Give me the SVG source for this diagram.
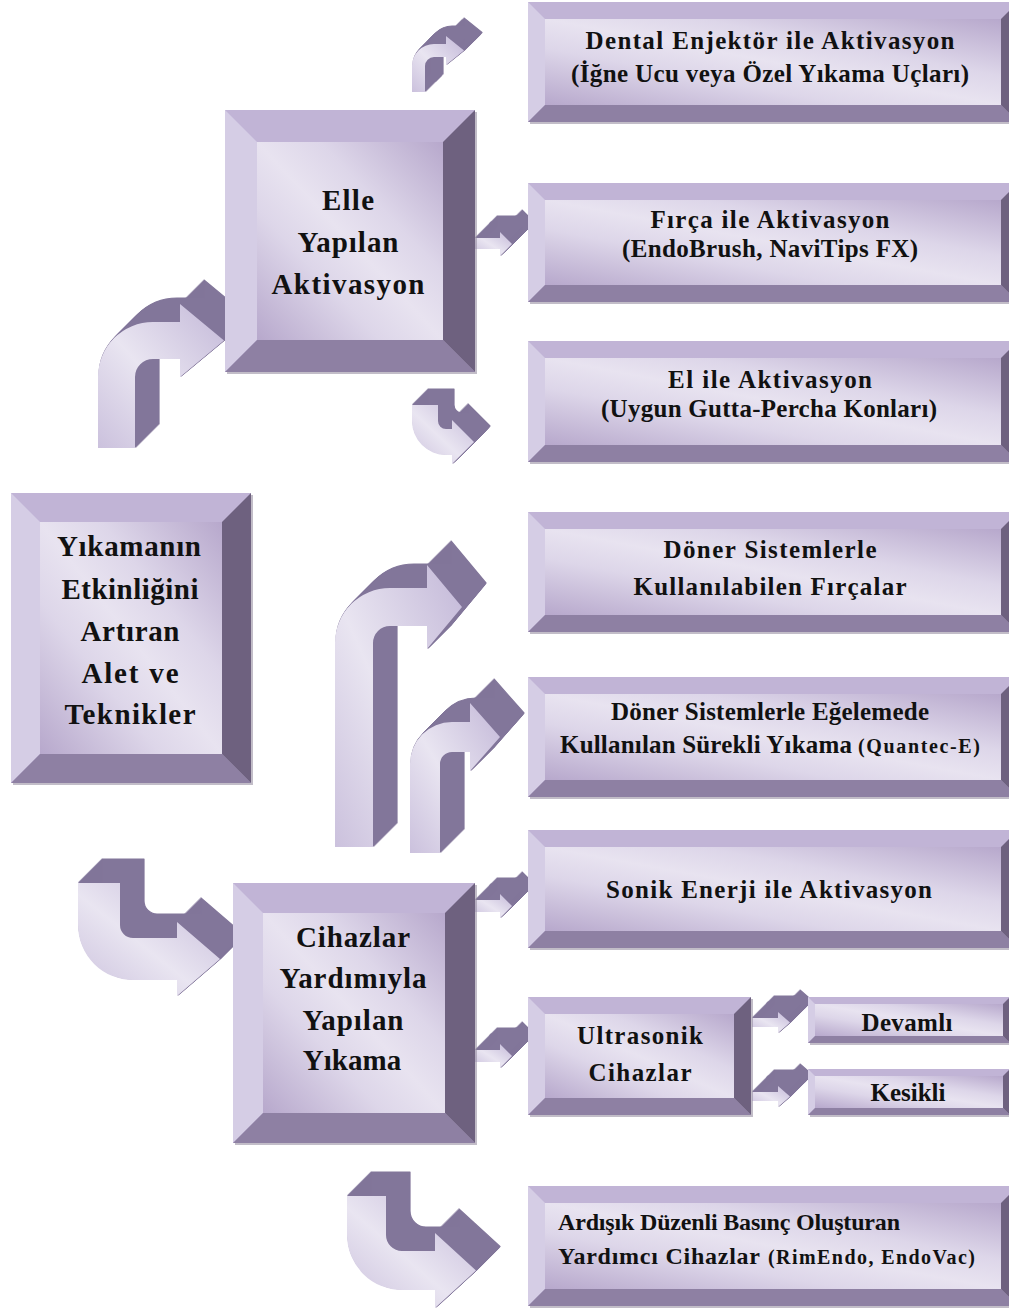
<svg xmlns="http://www.w3.org/2000/svg" xmlns:xlink="http://www.w3.org/1999/xlink" width="1009" height="1311" viewBox="0 0 1009 1311">
<style>
.t{fill:#c1b4d6}.l{fill:#d5cde5}.b{fill:#8e80a3}.r{fill:#6e617f}.f{fill:url(#fg)}.s{fill:#8f879b;opacity:.55}
.ex{fill:#82769a;stroke:#82769a;stroke-width:1.2;stroke-linejoin:round}
.af{fill:url(#ag)}
text{font-family:"Liberation Serif","Times New Roman",serif;font-weight:bold;fill:#111;text-anchor:middle}
.w{font-size:25px}.big{font-size:29px}.sm{font-size:20px}.st{text-anchor:start}.w24{font-size:24px}
</style>
<defs>
<linearGradient id="fg" x1="1" y1="0" x2="0" y2="1">
<stop offset="0" stop-color="#b7a8cc"/><stop offset="0.33" stop-color="#ddd6e9"/><stop offset="0.5" stop-color="#e8e3f0"/><stop offset="0.67" stop-color="#ddd6e9"/><stop offset="1" stop-color="#b7a8cc"/>
</linearGradient>
<linearGradient id="ag" x1="0" y1="1" x2="1" y2="0">
<stop offset="0" stop-color="#cbc1dd"/><stop offset="0.45" stop-color="#e9e5f1"/><stop offset="1" stop-color="#c3b8d8"/>
</linearGradient>
<path id="p1" d="M412,92 L412,66 A22,22 0 0 1 434,44 L446,44 L446,36 L464,50.5 L446,65 L446,57 L434,57 A9,9 0 0 0 425,66 L425,92 Z"/>
<path id="p2" d="M98,448 L98,377 A55,55 0 0 1 153,322 L180,322 L180,304 L224,340.5 L180,377 L180,359 L153,359 A18,18 0 0 0 135,377 L135,448 Z"/>
<path id="p3" d="M412,405 L412,421 A34,34 0 0 0 446,455 L452,455 L452,464 L474,442 L452,420 L452,429 L446,429 A8,8 0 0 1 438,421 L438,405 Z"/>
<path id="p4" d="M78,883 L78,925 A55,55 0 0 0 133,980 L177,980 L177,996 L220,959 L177,922 L177,938 L133,938 A13,13 0 0 1 120,925 L120,883 Z"/>
<path id="p5" d="M347,1196 L347,1235 A55,55 0 0 0 402,1290 L435,1290 L435,1308 L476,1270.5 L435,1233 L435,1251 L402,1251 A16,16 0 0 1 386,1235 L386,1196 Z"/>
<path id="p6" d="M335,847 L335,643 A55,55 0 0 1 390,588 L427,588 L427,565 L462,607 L427,649 L427,626 L390,626 A17,17 0 0 0 373,643 L373,847 Z"/>
<path id="p7" d="M410,853 L410,764 A42,42 0 0 1 452,722 L470,722 L470,703 L500,737 L470,771 L470,752 L452,752 A12,12 0 0 0 440,764 L440,853 Z"/>
<path id="p8" d="M475,238 L500,238 L500,232 L512,244 L500,256 L500,249 L475,249 Z"/>
<path id="p9" d="M475,900 L500,900 L500,894 L512,906 L500,918 L500,912 L475,912 Z"/>
<path id="p10" d="M475,1050 L500,1050 L500,1044 L512,1056 L500,1068 L500,1062 L475,1062 Z"/>
<path id="p11" d="M752,1018 L778,1018 L778,1012 L790,1022.5 L778,1033 L778,1027 L752,1027 Z"/>
<path id="p12" d="M752,1092 L778,1092 L778,1086 L790,1096.5 L778,1107 L778,1101 L752,1101 Z"/>
<g id="a24"><use xlink:href="#p2"/><use xlink:href="#p4"/><use xlink:href="#p5"/><use xlink:href="#p6"/><use xlink:href="#p7"/></g>
<g id="b24"><use xlink:href="#a24"/><use xlink:href="#a24" x="1" y="-1"/></g>
<g id="c24"><use xlink:href="#b24"/><use xlink:href="#b24" x="2" y="-2"/></g>
<g id="d24"><use xlink:href="#c24"/><use xlink:href="#c24" x="4" y="-4"/></g>
<g id="a22"><use xlink:href="#p8"/><use xlink:href="#p9"/><use xlink:href="#p10"/><use xlink:href="#p11"/><use xlink:href="#p12"/></g>
<g id="b22"><use xlink:href="#a22"/><use xlink:href="#a22" x="1" y="-1"/></g>
<g id="c22"><use xlink:href="#b22"/><use xlink:href="#b22" x="2" y="-2"/></g>
<g id="d22"><use xlink:href="#c22"/><use xlink:href="#c22" x="4" y="-4"/></g>
<g id="b1"><use xlink:href="#p1"/><use xlink:href="#p1" x="1" y="-1"/></g>
<g id="c1"><use xlink:href="#b1"/><use xlink:href="#b1" x="2" y="-2"/></g>
<g id="d1"><use xlink:href="#c1"/><use xlink:href="#c1" x="4" y="-4"/></g>
<g id="b3"><use xlink:href="#p3"/><use xlink:href="#p3" x="1" y="-1"/></g>
<g id="c3"><use xlink:href="#b3"/><use xlink:href="#b3" x="2" y="-2"/></g>
<g id="d3"><use xlink:href="#c3"/><use xlink:href="#c3" x="4" y="-4"/></g>
</defs>
<rect width="1009" height="1311" fill="#ffffff"/>
<g id="connectors">
<g class="ex">
<use xlink:href="#d24" x="1" y="-1"/><use xlink:href="#d24" x="9" y="-9"/><use xlink:href="#d24" x="17" y="-17"/>
<use xlink:href="#d22" x="1" y="-1"/><use xlink:href="#d22" x="9" y="-9"/><use xlink:href="#d22" x="15" y="-15"/>
<use xlink:href="#d1" x="1" y="-1"/><use xlink:href="#d1" x="9" y="-9"/><use xlink:href="#d1" x="11" y="-11"/>
<use xlink:href="#d3" x="1" y="-1"/><use xlink:href="#d3" x="9" y="-9"/>
</g>
<g class="af">
<use xlink:href="#p1"/><use xlink:href="#p2"/><use xlink:href="#p3"/><use xlink:href="#p4"/><use xlink:href="#p5"/><use xlink:href="#p6"/>
<use xlink:href="#p7"/><use xlink:href="#p8"/><use xlink:href="#p9"/><use xlink:href="#p10"/><use xlink:href="#p11"/><use xlink:href="#p12"/>
</g>
</g>

<g id="n-elle">
<rect class="s" x="227" y="112" width="250" height="262"/>
<rect class="t" x="225" y="110" width="250" height="262"/>
<polygon class="l" points="225,110 257,142 257,340 225,372"/>
<polygon class="b" points="225,372 257,340 443,340 475,372"/>
<polygon class="r" points="475,110 475,372 443,340 443,142"/>
<rect class="f" x="257" y="142" width="186" height="198"/>
<text class="big" x="348" y="210" textLength="52">Elle</text>
<text class="big" x="348" y="252" textLength="101">Yapılan</text>
<text class="big" x="348" y="294" textLength="153">Aktivasyon</text>
</g>

<g id="n-root">
<rect class="s" x="13" y="495" width="240" height="290"/>
<rect class="t" x="11" y="493" width="240" height="290"/>
<polygon class="l" points="11,493 40,522 40,754 11,783"/>
<polygon class="b" points="11,783 40,754 222,754 251,783"/>
<polygon class="r" points="251,493 251,783 222,754 222,522"/>
<rect class="f" x="40" y="522" width="182" height="232"/>
<text class="big" x="129" y="556" textLength="144">Yıkamanın</text>
<text class="big" x="130" y="599" textLength="137">Etkinliğini</text>
<text class="big" x="130" y="641" textLength="99">Artıran</text>
<text class="big" x="130" y="683" textLength="97">Alet ve</text>
<text class="big" x="130" y="724" textLength="131">Teknikler</text>
</g>

<g id="n-cihaz">
<rect class="s" x="235" y="885" width="242" height="260"/>
<rect class="t" x="233" y="883" width="242" height="260"/>
<polygon class="l" points="233,883 263,913 263,1113 233,1143"/>
<polygon class="b" points="233,1143 263,1113 445,1113 475,1143"/>
<polygon class="r" points="475,883 475,1143 445,1113 445,913"/>
<rect class="f" x="263" y="913" width="182" height="200"/>
<text class="big" x="353" y="947" textLength="114">Cihazlar</text>
<text class="big" x="353" y="988" textLength="147">Yardımıyla</text>
<text class="big" x="353" y="1030" textLength="101">Yapılan</text>
<text class="big" x="352" y="1070">Yıkama</text>
</g>

<g id="n-dental">
<rect class="s" x="530" y="4" width="490" height="120"/>
<rect class="t" x="528" y="2" width="490" height="120"/>
<polygon class="l" points="528,2 545,19 545,105 528,122"/>
<polygon class="b" points="528,122 545,105 1001,105 1018,122"/>
<polygon class="r" points="1018,2 1018,122 1001,105 1001,19"/>
<rect class="f" x="545" y="19" width="456" height="86"/>
<text class="w" x="770" y="49" textLength="369">Dental Enjektör ile Aktivasyon</text>
<text class="w" x="770" y="82" textLength="398">(İğne Ucu veya Özel Yıkama Uçları)</text>
</g>

<g id="n-firca">
<rect class="s" x="530" y="185" width="490" height="119"/>
<rect class="t" x="528" y="183" width="490" height="119"/>
<polygon class="l" points="528,183 545,200 545,285 528,302"/>
<polygon class="b" points="528,302 545,285 1001,285 1018,302"/>
<polygon class="r" points="1018,183 1018,302 1001,285 1001,200"/>
<rect class="f" x="545" y="200" width="456" height="85"/>
<text class="w" x="770" y="228" textLength="239">Fırça ile Aktivasyon</text>
<text class="w" x="770" y="257" textLength="296">(EndoBrush, NaviTips FX)</text>
</g>

<g id="n-el">
<rect class="s" x="530" y="343" width="490" height="121"/>
<rect class="t" x="528" y="341" width="490" height="121"/>
<polygon class="l" points="528,341 545,358 545,445 528,462"/>
<polygon class="b" points="528,462 545,445 1001,445 1018,462"/>
<polygon class="r" points="1018,341 1018,462 1001,445 1001,358"/>
<rect class="f" x="545" y="358" width="456" height="87"/>
<text class="w" x="770" y="388" textLength="204">El ile Aktivasyon</text>
<text class="w" x="769" y="417" textLength="336">(Uygun Gutta-Percha Konları)</text>
</g>

<g id="n-doner1">
<rect class="s" x="530" y="514" width="490" height="120"/>
<rect class="t" x="528" y="512" width="490" height="120"/>
<polygon class="l" points="528,512 545,529 545,615 528,632"/>
<polygon class="b" points="528,632 545,615 1001,615 1018,632"/>
<polygon class="r" points="1018,512 1018,632 1001,615 1001,529"/>
<rect class="f" x="545" y="529" width="456" height="86"/>
<text class="w" x="770" y="558" textLength="213">Döner Sistemlerle</text>
<text class="w" x="770" y="595" textLength="273">Kullanılabilen Fırçalar</text>
</g>

<g id="n-doner2">
<rect class="s" x="530" y="679" width="490" height="120"/>
<rect class="t" x="528" y="677" width="490" height="120"/>
<polygon class="l" points="528,677 545,694 545,780 528,797"/>
<polygon class="b" points="528,797 545,780 1001,780 1018,797"/>
<polygon class="r" points="1018,677 1018,797 1001,780 1001,694"/>
<rect class="f" x="545" y="694" width="456" height="86"/>
<text class="w" x="770" y="720" textLength="318">Döner Sistemlerle Eğelemede</text>
<text class="w st" x="560" y="753" textLength="292">Kullanılan Sürekli Yıkama</text>
<text class="sm st" x="858" y="753" textLength="122">(Quantec-E)</text>
</g>

<g id="n-sonik">
<rect class="s" x="530" y="832" width="490" height="118"/>
<rect class="t" x="528" y="830" width="490" height="118"/>
<polygon class="l" points="528,830 545,847 545,931 528,948"/>
<polygon class="b" points="528,948 545,931 1001,931 1018,948"/>
<polygon class="r" points="1018,830 1018,948 1001,931 1001,847"/>
<rect class="f" x="545" y="847" width="456" height="84"/>
<text class="w" x="769" y="898" textLength="326">Sonik Enerji ile Aktivasyon</text>
</g>

<g id="n-ultra">
<rect class="s" x="530" y="999" width="223" height="118"/>
<rect class="t" x="528" y="997" width="223" height="118"/>
<polygon class="l" points="528,997 545,1014 545,1098 528,1115"/>
<polygon class="b" points="528,1115 545,1098 734,1098 751,1115"/>
<polygon class="r" points="751,997 751,1115 734,1098 734,1014"/>
<rect class="f" x="545" y="1014" width="189" height="84"/>
<text class="w" x="640" y="1044" textLength="126">Ultrasonik</text>
<text class="w" x="640" y="1081" textLength="103">Cihazlar</text>
</g>

<g id="n-devamli">
<rect class="s" x="810" y="999" width="202" height="46"/>
<rect class="t" x="808" y="997" width="202" height="46"/>
<polygon class="l" points="808,997 815,1004 815,1036 808,1043"/>
<polygon class="b" points="808,1043 815,1036 1003,1036 1010,1043"/>
<polygon class="r" points="1010,997 1010,1043 1003,1036 1003,1004"/>
<rect class="f" x="815" y="1004" width="188" height="32"/>
<text class="w" x="907" y="1031" textLength="91">Devamlı</text>
</g>

<g id="n-kesikli">
<rect class="s" x="810" y="1071" width="202" height="46"/>
<rect class="t" x="808" y="1069" width="202" height="46"/>
<polygon class="l" points="808,1069 815,1076 815,1108 808,1115"/>
<polygon class="b" points="808,1115 815,1108 1003,1108 1010,1115"/>
<polygon class="r" points="1010,1069 1010,1115 1003,1108 1003,1076"/>
<rect class="f" x="815" y="1076" width="188" height="32"/>
<text class="w" x="908" y="1101">Kesikli</text>
</g>

<g id="n-ardisik">
<rect class="s" x="530" y="1188" width="490" height="120"/>
<rect class="t" x="528" y="1186" width="490" height="120"/>
<polygon class="l" points="528,1186 545,1203 545,1289 528,1306"/>
<polygon class="b" points="528,1306 545,1289 1001,1289 1018,1306"/>
<polygon class="r" points="1018,1186 1018,1306 1001,1289 1001,1203"/>
<rect class="f" x="545" y="1203" width="456" height="86"/>
<text class="w24 st" x="558" y="1230" textLength="342">Ardışık Düzenli Basınç Oluşturan</text>
<text class="w24 st" x="558" y="1264" textLength="202">Yardımcı Cihazlar</text>
<text class="sm st" x="768" y="1264" textLength="207">(RimEndo, EndoVac)</text>
</g>
</svg>
